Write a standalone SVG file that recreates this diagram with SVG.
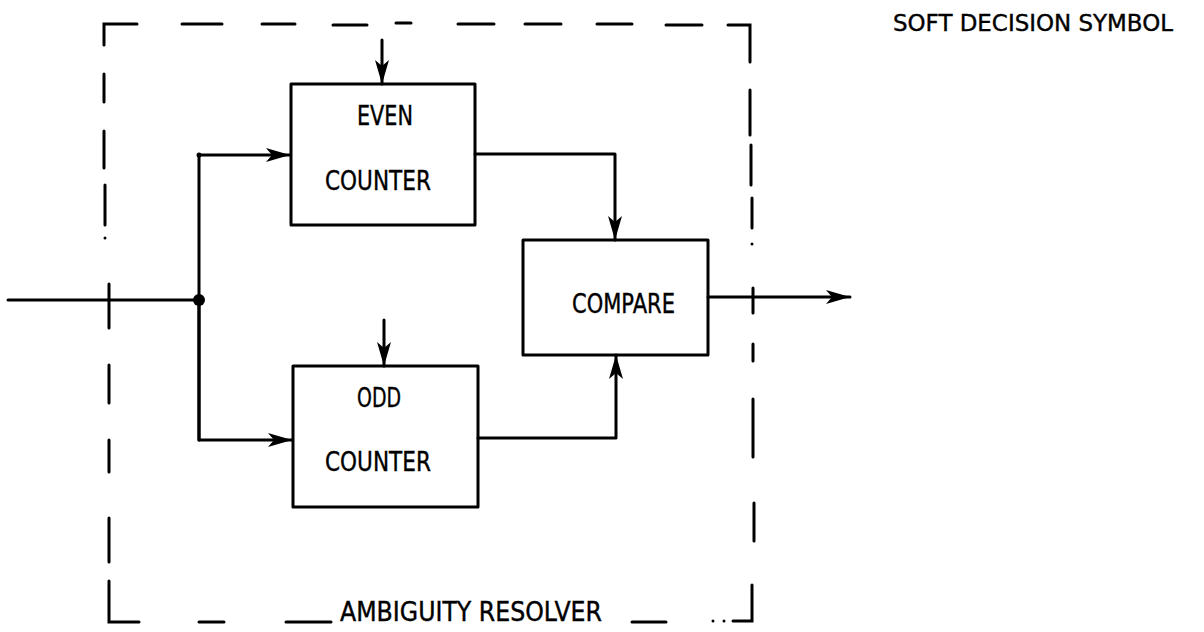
<svg xmlns="http://www.w3.org/2000/svg" width="1204" height="632" viewBox="0 0 1204 632">
<style>
.ln{fill:none;stroke:#000;stroke-width:3;stroke-linecap:round;stroke-linejoin:round}
.bx{fill:none;stroke:#000;stroke-width:3;stroke-linejoin:round}
.bd{fill:none;stroke:#000;stroke-width:3;stroke-linecap:round}
.t{font-family:"DejaVu Sans","Liberation Sans",sans-serif;font-size:26px;fill:#000;stroke:#000;stroke-width:0.4}
</style>
<defs>
<marker id="ah" markerWidth="26" markerHeight="16" refX="24" refY="8" orient="auto" markerUnits="userSpaceOnUse">
<path d="M0,1 L24,8 L0,15 L6,8 Z" fill="#000"/>
</marker>
</defs>
<rect width="1204" height="632" fill="#fff"/>
<g id="border">
<path class="bd" d="M104,45 V24 H137"/>
<path class="bd" d="M182,24 H222 M262,24 H295 M333,25 H367 M396,23 H411 M458,24 H494 M525,24 H561 M597,24 H632 M666,25 H702"/>
<path class="bd" d="M728,25 H750 V62"/>
<path class="bd" d="M104,74 V102 M104,131 V168 M105,185 V225"/>
<circle cx="105" cy="238" r="1.5"/>
<path class="bd" d="M109,284 V328 M109,365 V403 M109,440 V472 M109,518 V562"/>
<path class="bd" d="M109,581 V622 H139"/>
<path class="bd" d="M199,622 H224 M286,622 H331 M632,622 H666"/>
<circle cx="713" cy="621" r="1.5"/><circle cx="724" cy="621" r="1.5"/>
<path class="bd" d="M733,621 H752 V585"/>
<path class="bd" d="M750,90 V135 M751,145 V185 M752,198 V228 M753,288 V313 M753,344 V361 M753,399 V457 M754,503 V541"/>
<circle cx="752" cy="244" r="1.5"/>
</g>
<g id="connectors">
<path class="ln" d="M8,300 H198"/>
<path class="ln" d="M199,440 V155 H290" marker-end="url(#ah)"/>
<path class="ln" d="M199,300 V440 H292" marker-end="url(#ah)"/>
<path class="ln" d="M382,40 V84" marker-end="url(#ah)"/>
<path class="ln" d="M384,320 V366" marker-end="url(#ah)"/>
<path class="ln" d="M475,154 H615 V240" marker-end="url(#ah)"/>
<path class="ln" d="M478,438 H616 V355" marker-end="url(#ah)"/>
<path class="ln" d="M708,297 H850" marker-end="url(#ah)"/>
<circle cx="199" cy="300" r="6" fill="#000"/>
<circle cx="199" cy="155" r="2.5" fill="#000"/>
</g>
<g id="even_counter">
<rect class="bx" x="291" y="84" width="184" height="141"/>
<text class="t" x="357" y="125" textLength="56" lengthAdjust="spacingAndGlyphs">EVEN</text>
<text class="t" x="325" y="190" textLength="106" lengthAdjust="spacingAndGlyphs">COUNTER</text>
</g>
<g id="odd_counter">
<rect class="bx" x="293" y="366" width="185" height="141"/>
<text class="t" x="357" y="407" textLength="44" lengthAdjust="spacingAndGlyphs">ODD</text>
<text class="t" x="325" y="471" textLength="106" lengthAdjust="spacingAndGlyphs">COUNTER</text>
</g>
<g id="compare">
<rect class="bx" x="523" y="240" width="185" height="115"/>
<text class="t" x="572" y="313" textLength="103" lengthAdjust="spacingAndGlyphs">COMPARE</text>
</g>
<g id="labels">
<text class="t" x="893" y="31" style="font-size:23px" textLength="280" lengthAdjust="spacingAndGlyphs">SOFT DECISION SYMBOL</text>
<text class="t" x="340" y="621" textLength="262" lengthAdjust="spacingAndGlyphs">AMBIGUITY RESOLVER</text>
</g>
</svg>
